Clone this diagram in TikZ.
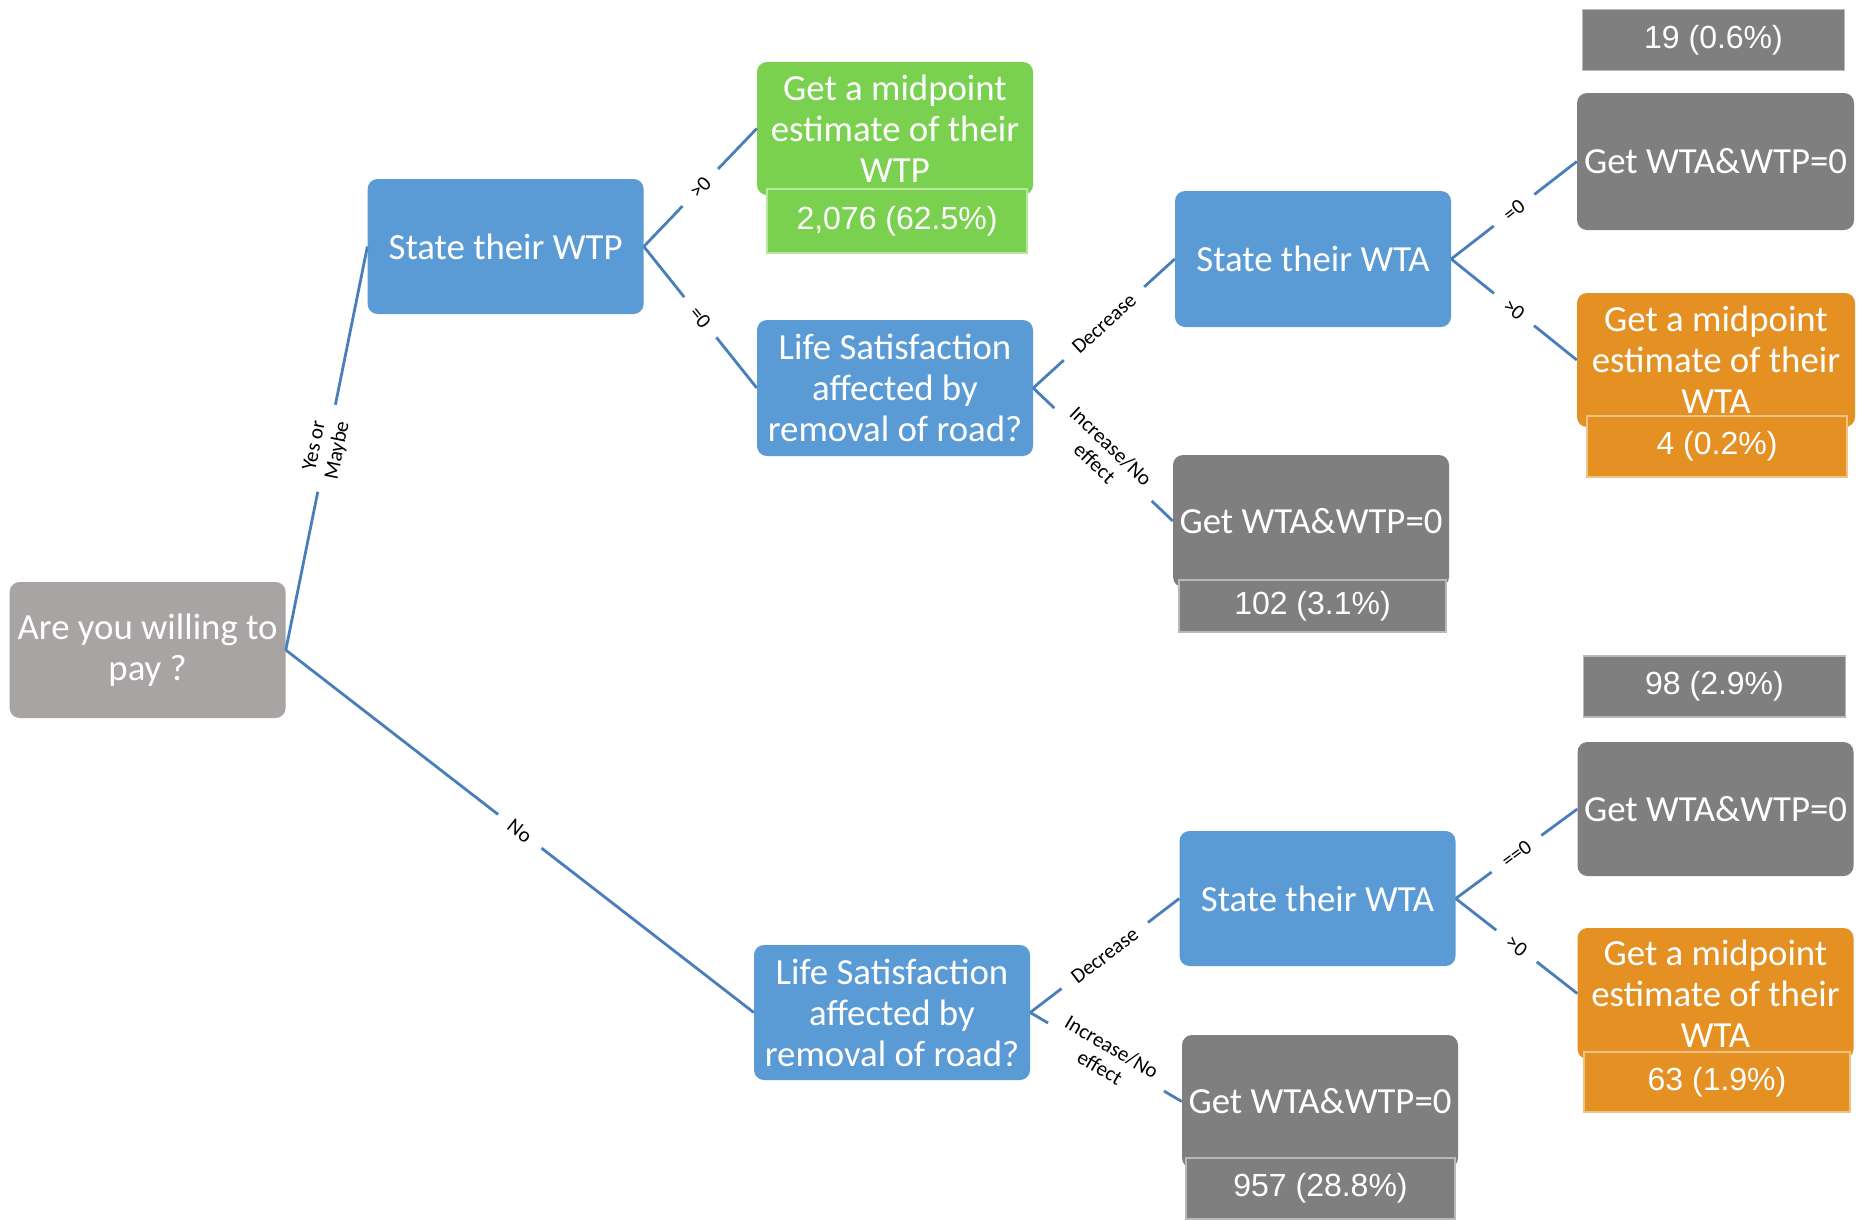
\documentclass[tikz,border=0pt]{standalone}
\usepackage{fontspec}
\setmainfont{Carlito}
\newfontfamily\arialf{Liberation Sans}
\definecolor{cstart}{RGB}{168,164,164}
\definecolor{cblue}{RGB}{91,155,213}
\definecolor{cgreen}{RGB}{122,209,80}
\definecolor{cgray}{RGB}{127,127,127}
\definecolor{corange}{RGB}{228,144,34}
\definecolor{linec}{RGB}{74,126,187}
\begin{document}
\begin{tikzpicture}[x=1pt,y=-1pt,
  box/.style={rectangle, rounded corners=10pt, fill=#1, text=white,
    minimum width=276pt, minimum height=135pt, inner sep=0pt, align=center,
    font=\fontsize{36.8}{41}\selectfont},
  cnt/.style={rectangle, fill=#1, draw=#1!55!white, line width=1.2pt, text=white,
    minimum width=262pt, minimum height=61pt, inner sep=0pt,
    font=\arialf\fontsize{32}{36}\selectfont},
  conn/.style={draw=linec, line width=2.8pt},
  lab/.style={sloped, midway, fill=white, inner xsep=15pt, inner ysep=1pt,
    text=black, align=center, font=\fontsize{21}{23.5}\selectfont}]
\useasboundingbox (0,0) rectangle (1859,1219);
\fill[white] (0,0) rectangle (1859,1219);

\node[box=cstart, minimum height=136pt] (start) at (147.6,650) {Are you willing to\\pay ?};
\node[box=cblue] (wtp) at (505.6,246.5) {State their WTP};
\node[box=cgreen, minimum height=133pt] (mwtp) at (895,128.5) {Get a midpoint\\estimate of their\\WTP};
\node[cnt=cgreen, minimum width=260pt, minimum height=64pt] (nwtp) at (897,221) {2,076 (62.5\%)};
\node[box=cblue, minimum height=136pt] (ls1) at (895,388) {Life Satisfaction\\affected by\\removal of road?};
\node[box=cblue, minimum height=136pt] (wta1) at (1313,259) {State their WTA};
\node[box=cgray, minimum height=132pt] (z1) at (1311,521) {Get WTA\&WTP=0};
\node[cnt=cgray, minimum width=267pt, minimum height=52pt] (nz1) at (1312.5,606) {102 (3.1\%)};

\node[cnt=cgray] (n19) at (1713.5,40) {19 (0.6\%)};
\node[box=cgray, minimum width=277pt, minimum height=137pt] (z2) at (1715.5,161.5) {Get WTA\&WTP=0};
\node[box=corange, minimum width=278pt, minimum height=134pt] (mwta1) at (1716,360) {Get a midpoint\\estimate of their\\WTA};
\node[cnt=corange, minimum width=260pt] (nwta1) at (1717,446.5) {4 (0.2\%)};

\node[cnt=cgray] (n98) at (1714.5,686.5) {98 (2.9\%)};
\node[box=cgray, minimum height=134pt] (z3) at (1715.5,809) {Get WTA\&WTP=0};
\node[box=corange, minimum height=131pt] (mwta2) at (1715.5,993.5) {Get a midpoint\\estimate of their\\WTA};
\node[cnt=corange, minimum width=266pt, minimum height=60pt] (nwta2) at (1717,1082) {63 (1.9\%)};
\node[box=cblue] (wta2) at (1317.5,898.5) {State their WTA};
\node[box=cblue] (ls2) at (892,1012.5) {Life Satisfaction\\affected by\\removal of road?};
\node[box=cgray, minimum height=133pt] (z4) at (1320,1101.5) {Get WTA\&WTP=0};
\node[cnt=cgray, minimum width=269pt] (nz4) at (1320.5,1188.5) {957 (28.8\%)};

\draw[conn] (start.east) -- node[lab]{Yes or\\Maybe} (wtp.west);
\draw[conn] (start.east) -- node[lab]{No} (ls2.west);
\draw[conn] (wtp.east) -- node[lab]{>0} (mwtp.west);
\draw[conn] (wtp.east) -- node[lab]{=0} (ls1.west);
\draw[conn] (ls1.east) -- node[lab]{Decrease} (wta1.west);
\draw[conn] (ls1.east) -- node[lab]{Increase/No\\effect} (z1.west);
\draw[conn] (wta1.east) -- node[lab]{=0} (z2.west);
\draw[conn] (wta1.east) -- node[lab]{>0} (mwta1.west);
\draw[conn] (ls2.east) -- node[lab]{Decrease} (wta2.west);
\draw[conn] (ls2.east) -- node[lab]{Increase/No\\effect} (z4.west);
\draw[conn] (wta2.east) -- node[lab]{==0} (z3.west);
\draw[conn] (wta2.east) -- node[lab]{>0} (mwta2.west);
\end{tikzpicture}
\end{document}
